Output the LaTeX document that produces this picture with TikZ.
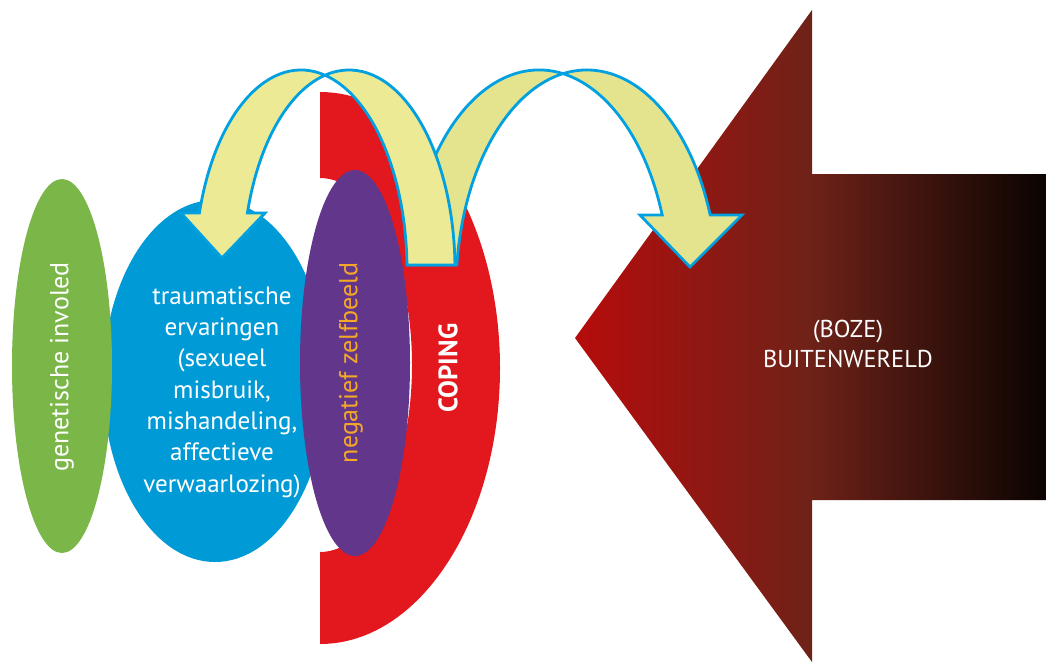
\documentclass[tikz,border=0pt]{standalone}
\usepackage{fontspec}
\newfontfamily\lab{PT Sans}
\usetikzlibrary{shapes.geometric}
\definecolor{cgreen}{RGB}{122,182,72}
\definecolor{cblue}{RGB}{0,155,214}
\definecolor{cpurple}{RGB}{98,54,138}
\definecolor{cred}{RGB}{226,24,30}
\definecolor{corange}{RGB}{245,168,40}
\definecolor{yfillA}{RGB}{236,234,148}
\definecolor{yfillB}{RGB}{228,228,142}
\definecolor{cstroke}{RGB}{0,160,225}
\definecolor{bigL}{RGB}{182,12,12}
\definecolor{bigM}{RGB}{110,34,24}
\definecolor{bigR}{RGB}{10,4,2}
\begin{document}
\begin{tikzpicture}[x=0.75pt,y=-0.75pt,
  lbl/.style={text=white, align=center, inner sep=0pt, font=\lab\fontsize{18.8}{23.5}\selectfont},
  curvy/.style={draw=cstroke, line width=2.1pt, line join=miter}]
\useasboundingbox (0,0) rectangle (1046,662);
% coping shape
\begin{scope}
\clip (320,0) rectangle (600,700);
\fill[cred, even odd rule] (320,368) ellipse[x radius=180, y radius=276]
  (320,365) ellipse[x radius=92, y radius=187];
\end{scope}
% ellipses
\fill[cblue] (215,381) ellipse[x radius=112, y radius=181];
\fill[cgreen] (62,366) ellipse[x radius=50, y radius=187];
\fill[cpurple] (355,363) ellipse[x radius=55, y radius=193];
% big arrow
\shade[left color=bigL, right color=bigR, middle color=bigM]
  (575,338) -- (812,10) -- (812,174) -- (1046,174) -- (1046,500) -- (812,500) -- (812,662) -- cycle;
% curved arrow 2 (to the right)
\path[curvy, fill=yfillB] (456.85,265)
  arc[start angle=-173.48, end angle=-19.93, x radius=131, y radius=220]
  -- (742,215) -- (690,267) -- (640,215) -- (662.2,215)
  arc[start angle=-19.93, end angle=-173.48, x radius=131, y radius=220] -- cycle;
% curved arrow 1 (to the left)
\path[curvy, fill=yfillA] (454.97,265)
  arc[start angle=-1.43, end angle=-163.44, x radius=106, y radius=200]
  -- (265,213) -- (222,258) -- (181,213) -- (199.4,213)
  arc[start angle=-163.44, end angle=-1.43, x radius=106, y radius=200] -- cycle;
% labels
\node[lbl] (trauma) at (222,392) {traumatische\\ervaringen\\(sexueel\\misbruik,\\mishandeling,\\affectieve\\verwaarlozing)};
\node[lbl, rotate=90, font=\lab\fontsize{19.5}{23}\selectfont] (gen) at (62,367) {genetische involed};
\node[lbl, rotate=90, text=corange, font=\lab\fontsize{19.5}{23}\selectfont] (zelf) at (351,363) {negatief zelfbeeld};
\node[lbl, rotate=90, font=\lab\bfseries\fontsize{20}{23}\selectfont] (coping) at (448,368) {COPING};
\node[lbl, font=\lab\fontsize{18.3}{22.5}\selectfont] (world) at (848,344) {(BOZE)\\BUITENWERELD};
\end{tikzpicture}
\end{document}
